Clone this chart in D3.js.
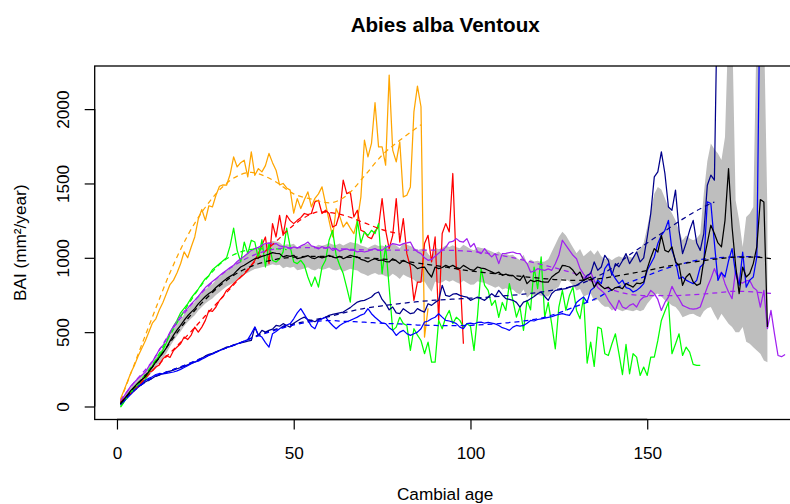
<!DOCTYPE html>
<html><head><meta charset="utf-8">
<script src="https://cdn.jsdelivr.net/npm/d3@7"></script>
<style>body{margin:0;background:#fff}svg{display:block}text{font-family:"Liberation Sans",Arial,Helvetica,sans-serif}</style>
</head><body><svg id="c" width="790" height="504"></svg>
<script>
// ---------- DATA (BAI per cambial age, starting at age 1) ----------
const xTicks = [0, 50, 100, 150];
const yTicks = [0, 500, 1000, 1500, 2000];

const orangeBAI = [50,110,170,230,280,340,390,440,500,560, 590,650,700,760,820,850,900,960,1040,1000,
1073,1140,1260,1325,1252,1350,1342,1420,1481,1490, 1488,1560,1679,1611,1640,1656,1544,1713,1555,1600,
1578,1620,1702,1640,1589,1490,1500,1470,1455,1300, 1398,1331,1390,1443,1342,1400,1430,1477,1365,1250,
1140,1330,1280,1207,1240,1200,1163,1250,1410,1791, 1679,1769,2043,1746,1746,1623,2229,1724,1645,1780,
1410,1421,1477,1982,2155,2016,467,660];

const redBAI = [30,50,70,90,108,140,180,197,230,240, 265,280,320,343,330,377,400,422,467,450,
480,534,500,534,579,646,640,669,714,740, 781,800,826,850,871,890,916,950,983,1028,
1084,1140,961,1230,1140,1286,1151,1286,1250,1230, 1252,1270,1298,1290,1298,1376,1387,1298,1320,1298,
1207,1219,1300,1522,1432,1443,1275,1320,1185,1174, 1140,1129,1180,1207,1398,1185,1062,1151,1398,1106,
1264,1028,938,714,837,837,1096,1151,972,1140, 579,1163,1230,1174,1567,927,916,422];

const greenBAI = [-5,30,70,100,120,150,165,180,230,270, 310,340,380,430,490,540,580,630,660,690,
730,760,790,826,860,880,920,940,960,980, 1000,1080,1200,1050,972,1106,1028,1118,1106,994,
1122,938,1096,983,972,994,1040,1200,1073,972, 961,983,950,871,808,871,803,938,983,1118,
1185,1017,950,894,800,702,983,1252,1100,1174, 1150,1185,1163,1230,894,1084,800,512,534,600,
557,545,377,523,480,444,355,433,298,298, 579,523,600,646,557,600,579,534,557,540,
377,613,927,815,781,680,714,600,700,646, 826,714,601,669,512,714,650,938,792,1006,
601,700,550,388,669,781,646,747,803,646, 590,736,292,433,269,534,523,355,343,420,
489,355,215,417,220,355,332,209,265,209, 332,332,444,579,640,702,355,420,489,343,
399,366,283,276,276];

const purpleBAI = [40,70,105,140,165,190,210,230,270,300, 340,385,410,450,500,540,570,610,640,660,
690,714,740,770,800,820,840,860,880,900, 916,935,950,975,994,1010,1030,1050,1062,1070,
1085,1096,1100,1090,1096,1080,1075,1073,1060,1073, 1065,1080,1090,1106,1080,1073,1060,1075,1065,1073,
1050,1060,1045,1055,1060,1050,1050,1040,1045,1039, 1045,1055,1062,1050,1050,1070,1080,1096,1090,1084,
1095,1100,1106,1060,1040,1028,1000,983,990,1010, 1030,1050,1070,1106,1110,1129,1110,1106,1129,1073,
1096,1040,1028,1062,1030,1006,1028,961,1028,1030, 1035,1039,1030,1028,990,961,904,910,927,920,
916,925,916,960,1017,1118,1084,1050,1017,994, 927,890,860,904,848,800,780,759,714,680,
646,714,669,658,680,691,669,714,736,740, 781,759,720,646,700,736,808,760,725,680,
669,658,655,658,669,736,803,860,927,871, 904,826,770,725,916,837,830,845,848,800,
781,669,781,523,646,489,343,335,350];

const navyBAI = [18,40,63,85,110,130,150,165,178,190, 205,212,220,231,238,245,254,262,270,280,
290,298,310,325,340,350,358,368,377,388, 399,405,415,422,428,433,440,444,534,478,
512,500,512,520,545,540,557,545,534,560, 575,590,601,585,579,570,585,590,600,613,
620,625,630,635,650,665,685,702,710,714, 725,736,760,770,720,691,650,669,630,624,
658,640,624,630,658,645,635,691,680,700, 714,815,747,740,755,759,747,740,736,714,
725,736,725,714,735,759,740,781,750,725, 720,714,700,669,702,710,725,740,759,770,
740,714,760,781,785,790,792,803,810,815, 830,848,882,894,972,916,938,1017,983,882,
961,940,980,1028,961,1000,1039,972,1000,1140, 1298,1544,1578,1712,1567,1342,1320,1455,1185,1028,
1100,1185,1252,1100,1050,1163,1488,1556,1522,3000];

const blueBAI = [10,35,60,85,110,135,155,175,190,200, 215,222,220,222,228,232,240,250,262,275,
288,300,305,318,330,345,352,365,375,385, 395,402,410,420,430,440,450,490,534,480,
467,430,399,489,505,523,540,548,557,590, 630,658,620,579,540,523,579,590,601,570,
545,523,545,560,570,579,590,601,615,624, 658,624,600,580,560,557,530,512,478,500,
512,490,478,489,500,523,568,575,590,600, 624,601,579,575,568,557,534,523,557,560,
555,565,568,560,565,560,555,545,530,523, 512,534,545,540,545,560,579,575,585,590,
595,600,605,613,620,624,618,613,650,700, 720,736,702,781,800,850,826,927,961,900,
860,826,850,800,792,770,781,800,826,916, 960,1006,1096,1151,1185,1252,1050,983,860,871,
850,837,826,848,938,961,1376,1365,1100,848, 900,871,980,1062,894,815,1039,803,850,871,
1006,3000];

const meanBAI = [20,50,80,110,135,160,180,200,235,265, 300,330,360,395,440,480,515,545,580,610,
635,658,690,715,740,760,775,800,820,840, 860,875,890,915,938,950,965,980,994,1000,
1010,1017,1025,1035,1030,1028,1006,1015,1010,1017, 994,1000,1006,1015,1000,995,1008,1000,1006,1017,
1005,1000,1010,994,1005,1017,1010,1006,990,983, 972,985,994,983,985,975,972,994,980,961,
983,970,960,949,927,935,938,900,871,938, 927,935,949,938,949,935,927,949,935,920,
916,938,930,927,916,905,894,904,882,890, 880,882,860,848,882,826,850,840,848,840,
837,837,871,890,904,949,945,938,916,882, 904,848,860,871,803,837,810,792,803,781,
800,803,792,826,815,803,830,826,837,927, 1000,1062,1039,1151,1050,1039,1073,972,949,815,
871,894,837,815,826,983,1100,1219,1163,1100, 1073,1252,1600,1207,950,759,938,871,894,961,
1073,1392,1376,534];

const bandHi = [35,68,100,132,158,185,207,228,265,296, 332,364,395,431,477,518,554,585,621,652,
678,702,735,761,787,808,824,850,871,892, 913,930,947,974,999,1013,1030,1047,1063,1071,
1083,1092,1102,1113,1110,1103,1082,1091,1087,1094, 1071,1078,1084,1094,1079,1075,1088,1081,1087,1099,
1090,1086,1097,1082,1094,1107,1100,1097,1082,1076, 1066,1080,1090,1080,1083,1074,1072,1095,1082,1064,
1100,1088,1080,1070,1050,1060,1064,1028,1000,1068, 1058,1067,1082,1072,1084,1071,1064,1087,1074,1060,
1051,1073,1066,1063,1053,1042,1031,1042,1020,1028, 1018,1020,998,986,1020,964,988,975,980,972,
975,990,1040,1090,1140,1175,1150,1110,1070,1030, 1060,1010,1030,1050,1020,1050,1010,990,1000,983,
1000,1010,1000,1020,1006,1000,1040,1060,1100,1207, 1320,1430,1477,1460,1400,1340,1300,1252,1180,1118,
1150,1130,1118,1130,1163,1432,1650,1769,1730,1702, 1657,1813,2600,2600,1387,1252,1073,1275,1298,1342,
2600,2600,2600,1300];

const bandLo = [5,32,60,88,112,135,153,172,205,234, 268,296,325,359,403,442,476,505,539,568,
592,614,645,669,693,712,726,750,769,788, 807,820,833,856,877,887,900,913,925,929,
937,942,948,957,950,953,930,939,933,940, 917,922,928,936,921,915,928,919,925,935,
920,914,923,906,916,927,920,915,898,890, 878,890,898,886,887,876,872,893,878,858,
888,875,864,852,830,838,840,802,772,840, 829,836,850,839,849,835,826,848,833,818,
821,843,835,832,821,810,799,809,787,795, 785,787,765,753,787,731,755,745,752,745,
742,740,772,790,805,860,855,840,815,780, 790,740,750,760,710,720,690,670,670,646,
660,650,640,650,646,640,650,640,650,691, 720,750,760,740,714,700,680,669,640,601,
610,620,624,610,601,640,660,669,620,579, 624,590,557,534,500,500,534,436,422,399,
377,355,310,298];

// fitted curves (dashed), read at selected ages
const orangeFitAge = [1,5,10,15,20,25,30,35,38,40,45,50,55,60,65,70,75,80,86];
const orangeFitVal = [40,290,600,900,1150,1340,1480,1560,1575,1565,1510,1430,1395,1370,1420,1550,1690,1790,1895];
const redFitAge = [1,5,10,15,20,25,30,35,40,45,50,55,57,60,65,70,75,80];
const redFitVal = [30,115,240,360,480,610,740,870,1000,1110,1220,1295,1310,1305,1280,1235,1190,1160];
const greenFitAge = [1,5,10,15,20,25,30,35,40,45,48];
const greenFitVal = [0,125,280,480,680,850,975,1040,1060,1060,1055];
const longFitAge = [1,5,10,15,20,25,30,35,40,45,50,55,60,65,70,75,80,85,90,95,100,105,110,115,120,125,130,135,140,145,150,155,160,165,170,175,180,185];
const purpleFitVal = [40,165,305,495,655,790,895,975,1030,1060,1068,1068,1064,1058,1054,1052,1052,1052,1052,1050,1043,1030,1010,985,955,925,890,835,785,755,745,745,748,755,765,775,770,760];
const meanFitVal = [20,130,265,430,590,720,830,910,960,990,1005,1010,1010,1005,1000,992,980,965,948,930,912,898,885,873,862,852,848,855,872,893,915,940,960,978,993,1004,1005,994];
const navyFitAge = [1,5,10,15,20,25,30,35,40,45,50,55,60,65,70,75,80,85,90,95,100,105,110,115,120,125,130,135,140,145,150,155,160,165,169];
const navyFitVal = [15,110,190,240,285,335,385,430,480,520,555,580,605,635,660,677,692,705,715,722,728,735,745,755,770,790,815,865,930,1020,1100,1180,1260,1330,1375];
const blueFitAge = [1,5,10,15,20,25,30,35,40,45,50,55,60,65,70,75,80,85,90,95,100,105,110,115,120,125,130,135,140,145,150,155,160,165,170,175,180,182];
const blueFitVal = [15,110,195,240,285,335,385,430,475,515,548,570,578,572,567,560,555,548,545,544,546,552,562,575,595,630,675,720,785,835,880,925,960,988,1000,1006,1008,1006];

const COL = {orange:"#FFA500", red:"#FF0000", green:"#00FF00", purple:"#A020F0", navy:"#00008B", blue:"#0000FF", mean:"#000000", band:"#BEBEBE"};

// ---------- DRAW ----------
const svg = d3.select("#c");
const P = {l:94.7, r:795.7, t:66, b:419.5};
const x = d3.scaleLinear().domain([-6.3, 192]).range([P.l, P.r]);
const y = d3.scaleLinear().domain([-87.5, 2290]).range([P.b, P.t]);
const FS = 17.2;

svg.append("defs").append("clipPath").attr("id","clip")
  .append("rect").attr("x",P.l).attr("y",P.t).attr("width",P.r-P.l).attr("height",P.b-P.t);

const g = svg.append("g").attr("clip-path","url(#clip)");

// band
const bandData = bandHi.map((h,i)=>({a:i+1, lo:bandLo[i], hi:h}));
g.append("path").datum(bandData)
  .attr("d", d3.area().x(d=>x(d.a)).y0(d=>y(d.lo)).y1(d=>y(d.hi)))
  .attr("fill", COL.band).attr("stroke","none");

const solid = d3.line().x((d,i)=>x(i+1)).y(d=>y(d));
const fitLine = d3.line().x(d=>x(d[0])).y(d=>y(d[1])).curve(d3.curveMonotoneX);
const zip = (a,v)=>a.map((t,i)=>[t, v[i]]);

function drawSolid(arr, c){
  g.append("path").datum(arr).attr("d", solid)
   .attr("fill","none").attr("stroke", c).attr("stroke-width",1.25).attr("stroke-linejoin","round");
}
function drawFit(a, v, c){
  g.append("path").datum(zip(a,v)).attr("d", fitLine)
   .attr("fill","none").attr("stroke", c).attr("stroke-width",1.25).attr("stroke-dasharray","5,4");
}

drawSolid(orangeBAI, COL.orange);
drawSolid(redBAI, COL.red);
drawSolid(greenBAI, COL.green);
drawSolid(purpleBAI, COL.purple);
drawSolid(navyBAI, COL.navy);
drawSolid(blueBAI, COL.blue);

drawFit(orangeFitAge, orangeFitVal, COL.orange);
drawFit(redFitAge, redFitVal, COL.red);
drawFit(greenFitAge, greenFitVal, COL.green);
drawFit(longFitAge, purpleFitVal, COL.purple);
drawFit(navyFitAge, navyFitVal, COL.navy);
drawFit(blueFitAge, blueFitVal, COL.blue);

drawSolid(meanBAI, COL.mean);
drawFit(longFitAge, meanFitVal, COL.mean);

// box
svg.append("rect").attr("x",P.l).attr("y",P.t).attr("width",P.r-P.l).attr("height",P.b-P.t)
  .attr("fill","none").attr("stroke","#000").attr("stroke-width",1.3);

// x axis
const xa = svg.append("g").attr("transform",`translate(0,${P.b})`)
  .call(d3.axisBottom(x).tickValues(xTicks).tickSize(10).tickSizeOuter(0).tickFormat(d3.format("d")));
xa.select(".domain").remove();
xa.append("line").attr("x1",x(xTicks[0])).attr("x2",x(xTicks[xTicks.length-1])).attr("stroke","#000").attr("stroke-width",1.3);
xa.selectAll(".tick line").attr("stroke","#000").attr("stroke-width",1.2);
xa.selectAll(".tick text").attr("y",39.5).attr("dy",0).attr("fill","#000")
  .style("font-size",FS+"px").style("font-family",'"Liberation Sans",Arial,sans-serif');

// y axis
const ya = svg.append("g").attr("transform",`translate(${P.l},0)`)
  .call(d3.axisLeft(y).tickValues(yTicks).tickSize(10).tickSizeOuter(0).tickFormat(d3.format("d")));
ya.select(".domain").remove();
ya.append("line").attr("y1",y(yTicks[0])).attr("y2",y(yTicks[yTicks.length-1])).attr("stroke","#000").attr("stroke-width",1.3);
ya.selectAll(".tick line").attr("stroke","#000").attr("stroke-width",1.2);
ya.selectAll(".tick text").attr("x",0).attr("y",-26).attr("dy",0).attr("transform","rotate(-90)")
  .attr("text-anchor","middle").attr("fill","#000")
  .style("font-size",FS+"px").style("font-family",'"Liberation Sans",Arial,sans-serif');

// titles
const cx = (P.l+P.r)/2, cy = (P.t+P.b)/2;
svg.append("text").attr("x",cx).attr("y",32).attr("text-anchor","middle")
  .style("font-size",(FS*1.2)+"px").style("font-weight","bold").text("Abies alba Ventoux");
svg.append("text").attr("x",cx).attr("y",500).attr("text-anchor","middle")
  .style("font-size",FS+"px").text("Cambial age");
svg.append("text").attr("transform",`translate(26,${cy}) rotate(-90)`).attr("text-anchor","middle")
  .style("font-size",FS+"px").text("BAI (mm²/year)");
</script></body></html>
